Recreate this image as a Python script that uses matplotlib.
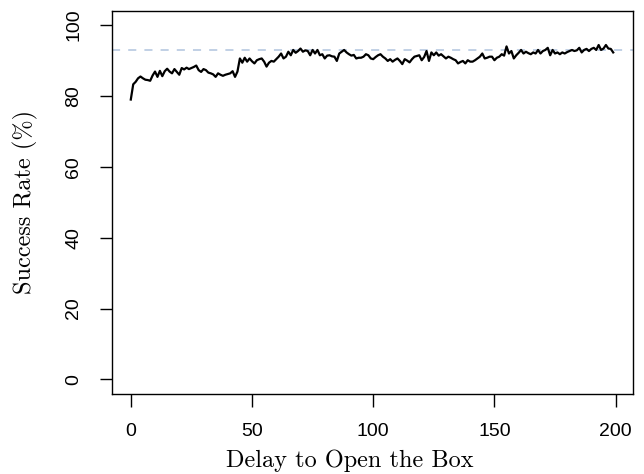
import matplotlib
matplotlib.use("Agg")
import matplotlib.pyplot as plt

delay = list(range(200))
success = [
    79.0, 83.3, 84.0, 85.0, 85.5, 85.0, 84.6, 84.5, 84.3, 85.8,
    86.9, 85.4, 87.1, 85.6, 87.0, 87.7, 86.9, 86.4, 87.6, 86.8,
    86.0, 87.9, 87.5, 88.0, 87.6, 87.9, 88.2, 88.6, 87.3, 86.8,
    87.6, 87.3, 86.6, 86.4, 86.1, 85.4, 86.4, 86.0, 85.7, 86.0,
    86.2, 86.4, 87.0, 85.4, 86.9, 90.6, 89.4, 90.8, 89.7, 90.6,
    89.8, 89.2, 90.1, 90.4, 90.6, 89.7, 88.3, 89.4, 89.9, 89.7,
    90.4, 91.1, 92.0, 90.6, 91.1, 92.5, 91.5, 93.0, 92.2, 92.7,
    93.4, 92.5, 92.9, 92.7, 91.5, 93.0, 92.0, 93.0, 91.5, 91.8,
    90.6, 91.4, 91.5, 91.2, 91.1, 89.9, 92.0, 92.5, 93.0, 92.3,
    91.8, 91.4, 91.6, 90.6, 90.8, 90.8, 91.1, 91.8, 91.5, 90.6,
    90.4, 91.0, 91.5, 91.8, 91.1, 90.6, 89.9, 90.4, 89.7, 90.2,
    90.6, 89.9, 89.0, 90.4, 90.0, 89.5, 90.4, 91.1, 91.3, 91.5,
    90.1, 91.0, 92.7, 89.9, 92.3, 91.5, 92.3, 91.4, 91.8, 91.2,
    90.6, 91.1, 90.8, 90.4, 90.1, 89.2, 89.6, 89.9, 89.2, 90.1,
    89.7, 89.7, 90.1, 90.6, 91.1, 92.0, 90.6, 90.8, 91.1, 91.1,
    90.1, 90.8, 91.1, 91.8, 91.4, 94.0, 92.0, 92.7, 90.6, 91.5,
    92.2, 93.0, 92.0, 92.5, 92.1, 91.8, 92.3, 92.0, 93.0, 92.0,
    92.7, 93.0, 93.6, 91.5, 93.0, 92.0, 92.3, 91.8, 92.3, 92.0,
    92.4, 92.7, 93.0, 92.7, 92.9, 93.6, 92.3, 93.0, 93.3, 92.7,
    93.3, 93.6, 93.0, 94.4, 93.0, 93.4, 94.4, 93.4, 93.3, 92.3,
]
reference_level = 93.0
x_ticks = [0, 50, 100, 150, 200]
y_ticks = [0, 20, 40, 60, 80, 100]

fig = plt.figure(figsize=(6.44, 4.74), dpi=100)
ax = fig.add_axes([111.5/644, 1-393.5/474, (632.5-111.5)/644, (393.5-11)/474])

ax.axhline(reference_level, color="#b0c4de", lw=1.1, ls=(0, (5.3, 5.3)))
ax.plot(delay, success, color="black", lw=1.6)

ax.set_xlim(-7.96, 206.96)
ax.set_ylim(-4, 104)
ax.set_xticks(x_ticks)
ax.set_yticks(y_ticks)
for lab in ax.get_xticklabels() + ax.get_yticklabels():
    lab.set_fontfamily("Liberation Sans")
    lab.set_fontsize(14)
for lab in ax.get_yticklabels():
    lab.set_rotation(90)
    lab.set_va("center")
ax.tick_params(direction="out", length=9, width=1, pad=12)
for s in ax.spines.values():
    s.set_linewidth(1)
ax.set_xlabel("Delay to Open the Box", fontfamily="cmr10", fontsize=17.5, labelpad=7)
ax.xaxis.label.set_x((350 - 111.5) / 521)
ax.set_ylabel("Success Rate (%)", fontfamily="cmr10", fontsize=17.5, labelpad=20)

fig.savefig("out.png", dpi=100)
